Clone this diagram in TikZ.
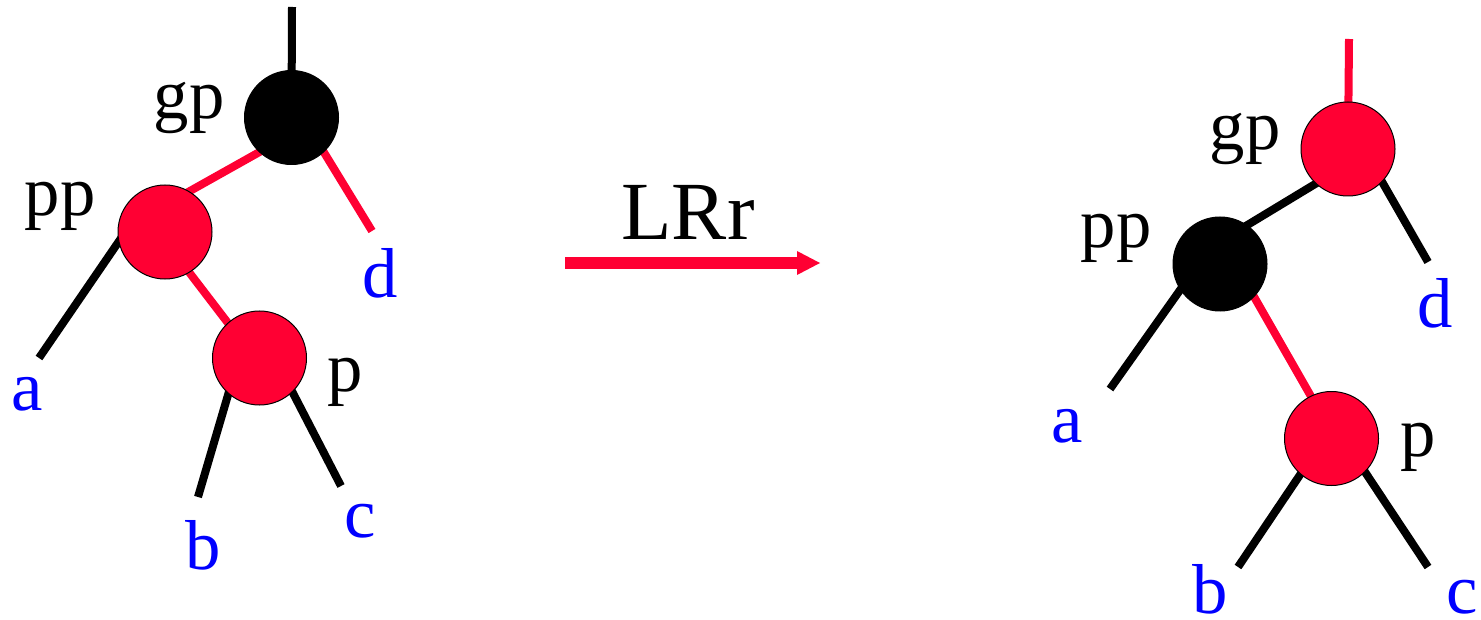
\documentclass[tikz,border=0pt]{standalone}
\usepackage{fontspec}
\setmainfont{Liberation Serif}
\usetikzlibrary{arrows.meta}
\definecolor{rbred}{HTML}{FF0033}
\definecolor{lblue}{HTML}{0000FF}
\pgfdeclarelayer{bg}
\pgfsetlayers{bg,main}
\begin{document}
\begin{tikzpicture}[x=0.75pt,y=-0.75pt,
  rbnode/.style={circle,minimum size=70.5pt,inner sep=0pt,draw=black,line width=0.75pt},
  rednode/.style={rbnode,fill=rbred},
  blacknode/.style={rbnode,fill=black},
  edge/.style={line width=6pt,shorten <=-8pt},
  nnedge/.style={edge,shorten >=-8pt},
  lbl/.style={anchor=base,inner sep=0pt,font=\fontsize{53}{60}\selectfont},
  leaf/.style={lbl,text=lblue}]
\useasboundingbox (0,0) rectangle (1481,620);

% left tree
\node[blacknode] (gp1) at (291.5,117.5) {};
\node[rednode] (pp1) at (165,232) {};
\node[rednode] (p1) at (259.5,358) {};
\coordinate (top1) at (292,7);
\coordinate (d1e) at (372,231);
\coordinate (a1e) at (39,358);
\coordinate (b1e) at (198,497);
\coordinate (c1e) at (341,486);

% right tree
\node[rednode] (gp2) at (1348,149) {};
\node[blacknode] (pp2) at (1220,264) {};
\node[rednode] (p2) at (1331.5,438.5) {};
\coordinate (top2) at (1349,39);
\coordinate (d2e) at (1428,262);
\coordinate (a2e) at (1110,389);
\coordinate (b2e) at (1238,567);
\coordinate (c2e) at (1428,567);

\begin{pgfonlayer}{bg}
  \draw[line width=6pt] (top1) -- (gp1.center);
  \draw[edge,rbred] (gp1.313.8) -- (d1e);
  \draw[nnedge,rbred] (gp1.227.6) -- (pp1.59.5);
  \draw[edge] (pp1.192) -- (a1e);
  \draw[nnedge,rbred] (pp1.301.4) -- (p1.132.7);
  \draw[edge] (p1.229.9) -- (b1e);
  \draw[edge] (p1.314.6) -- (c1e);

  \draw[line width=6pt,rbred] (top2) -- (gp2.center);
  \draw[edge] (gp2.316.7) -- (d2e);
  \draw[nnedge] (gp2.227.6) -- (pp2.55.3);
  \draw[edge] (pp2.213) -- (a2e);
  \draw[nnedge,rbred] (pp2.316.7) -- (p2.116.4);
  \draw[edge] (p2.229.2) -- (b2e);
  \draw[edge] (p2.315) -- (c2e);
\end{pgfonlayer}

% labels left
\node[lbl] (lgp1) at (189,119) {gp};
\node[lbl] (lpp1) at (60,216) {pp};
\node[lbl] (lp1) at (345,391) {p};
\node[leaf] (la1) at (27,410) {a};
\node[leaf] (lb1) at (203,569) {b};
\node[leaf] (lc1) at (360,537) {c};
\node[leaf] (ld1) at (380,297) {d};

% arrow
\coordinate (arrS) at (565,263);
\coordinate (arrE) at (820,263);
\draw[line width=9pt,rbred,-{Triangle[length=17.25pt,width=18pt,line width=0pt]}] (arrS) -- (arrE);
\node[lbl,font=\fontsize{62}{70}\selectfont] (lrr) at (688,240) {LRr};

% labels right
\node[lbl] (lgp2) at (1245,150) {gp};
\node[lbl] (lpp2) at (1116,248) {pp};
\node[lbl] (lp2) at (1418,456) {p};
\node[leaf] (la2) at (1067,442) {a};
\node[leaf] (lb2) at (1210,613) {b};
\node[leaf] (lc2) at (1462,613) {c};
\node[leaf] (ld2) at (1435,327) {d};
\end{tikzpicture}
\end{document}
